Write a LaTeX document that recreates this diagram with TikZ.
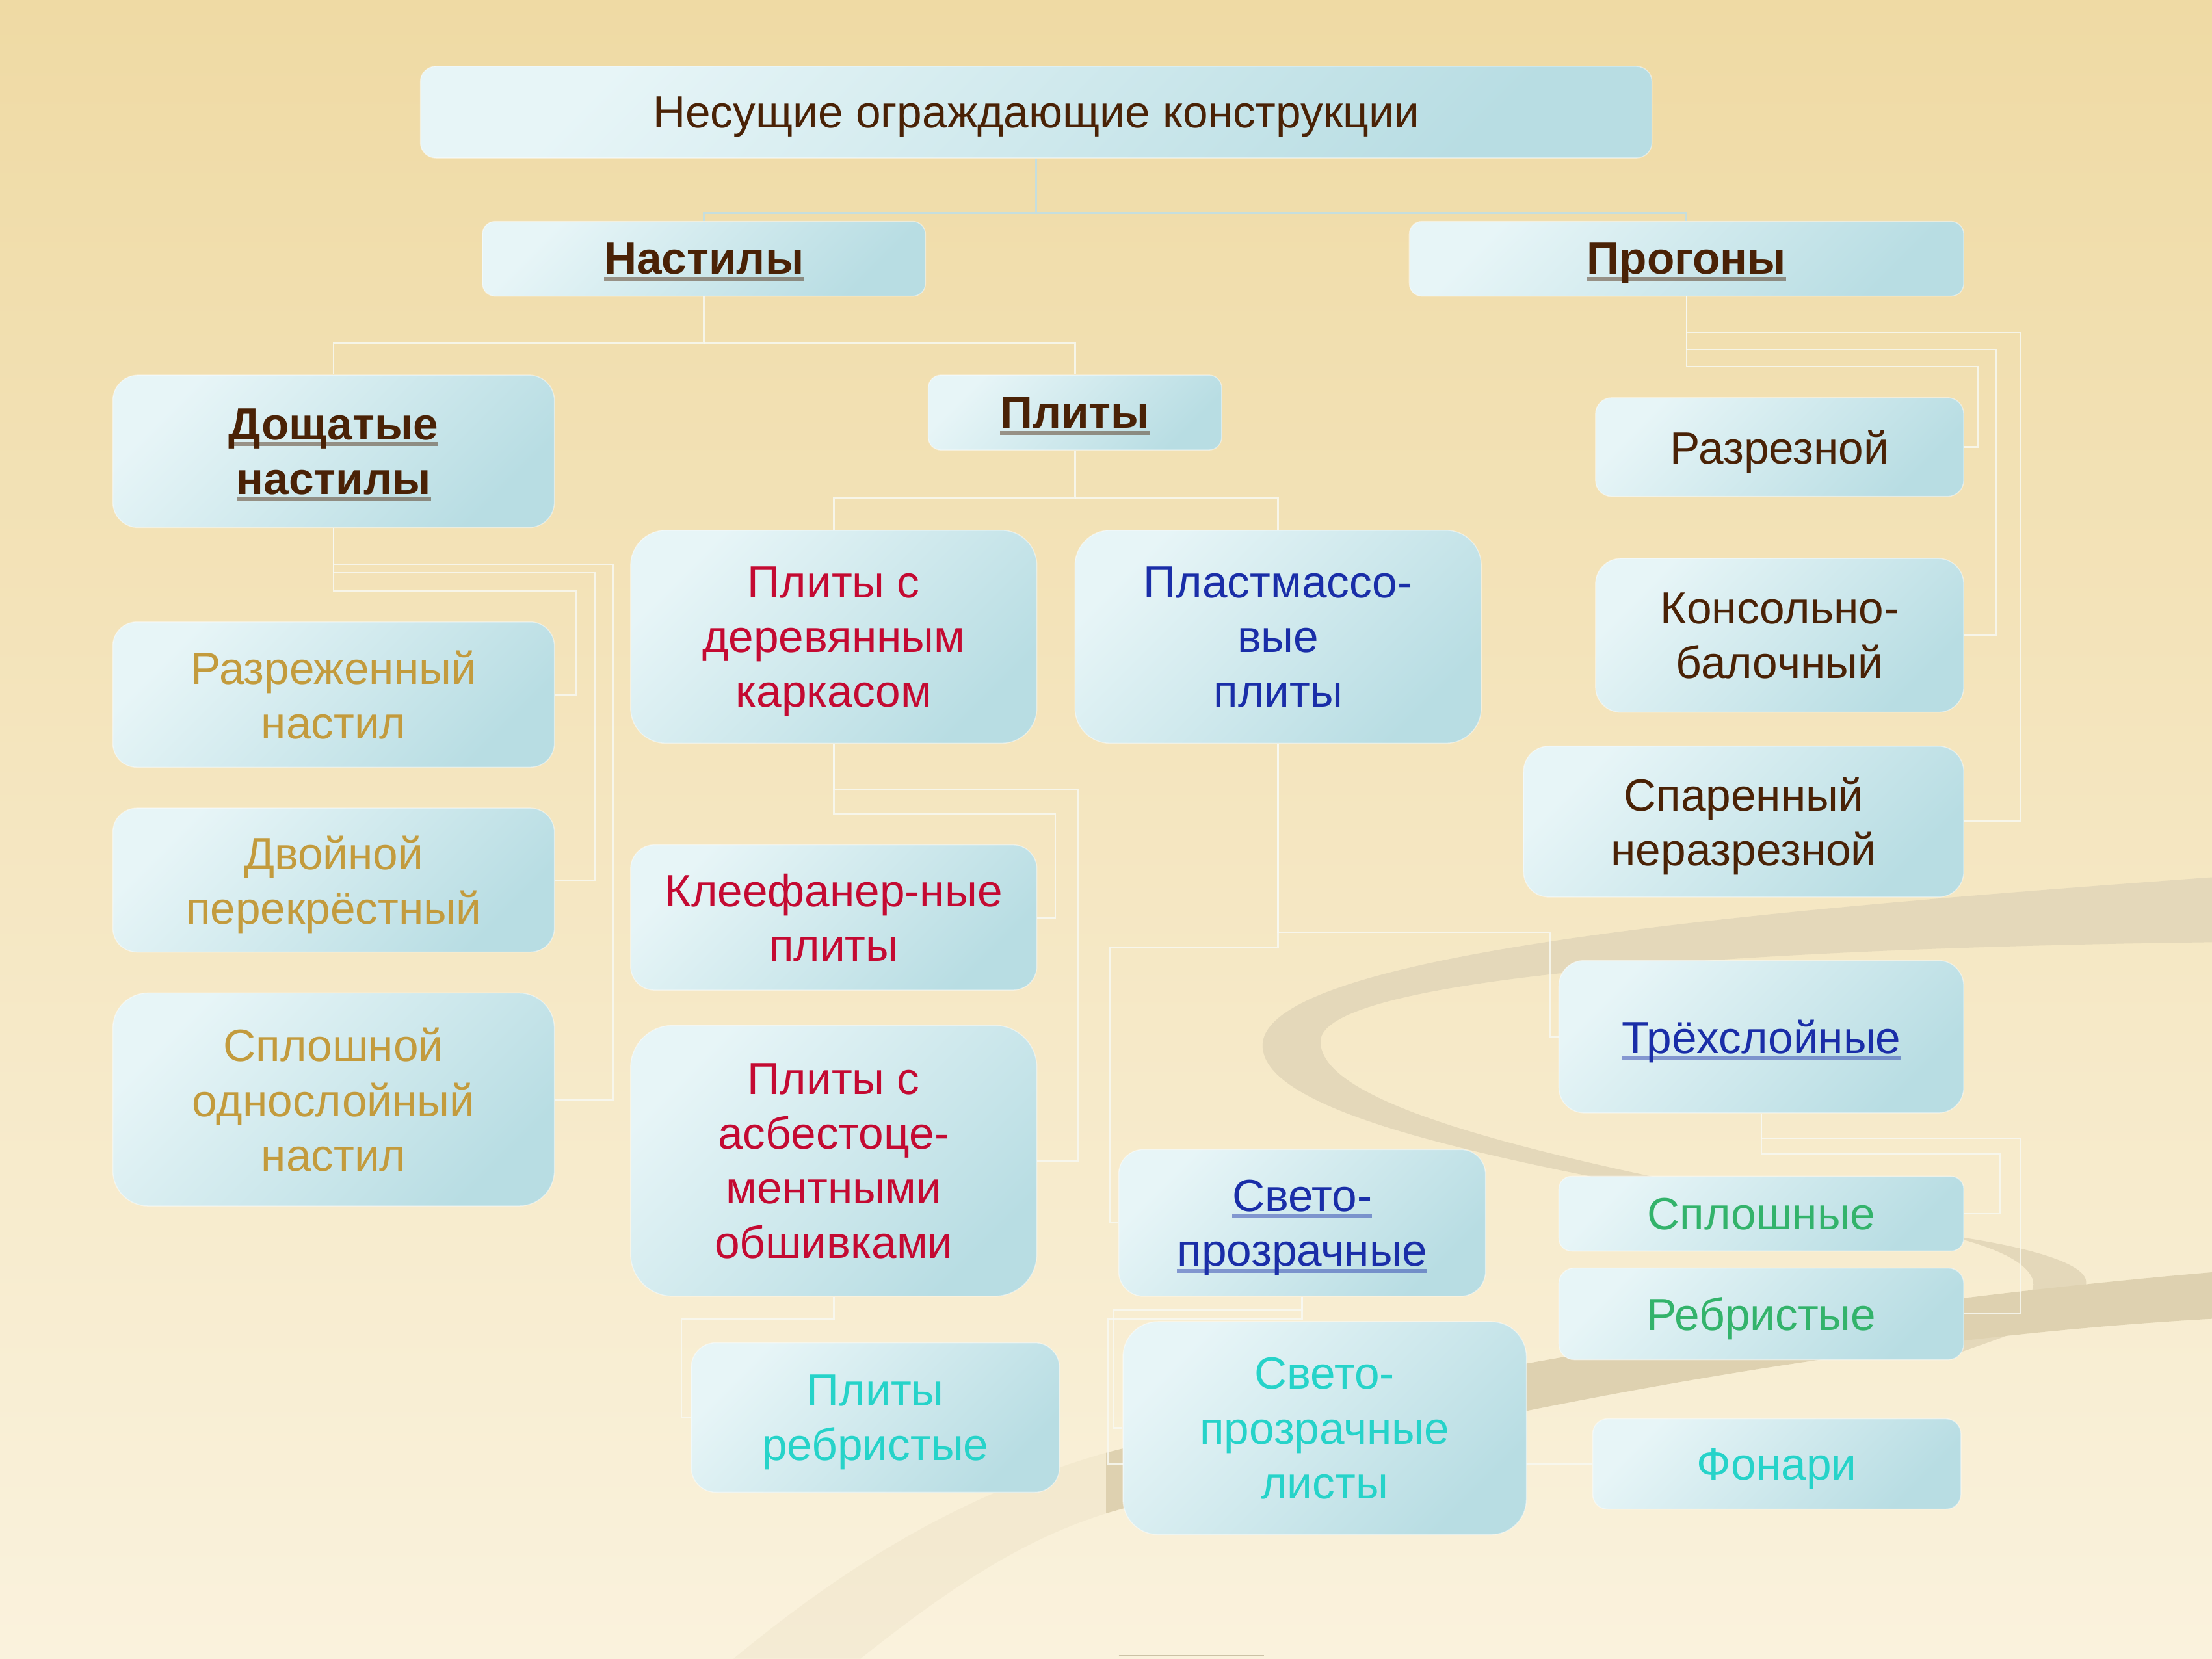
\documentclass[tikz,border=0pt]{standalone}
\usepackage{fontspec}
\setmainfont{Liberation Sans}
\usetikzlibrary{calc}
\definecolor{bgA}{HTML}{EFDAA4}
\definecolor{bgB}{HTML}{F8EBCB}
\definecolor{bgC}{HTML}{FAF2DD}
\definecolor{boxL}{HTML}{E7F5F7}
\definecolor{boxD}{HTML}{B8DDE3}
\definecolor{tBrown}{HTML}{4A2206}
\definecolor{tGold}{HTML}{C39B3D}
\definecolor{tRed}{HTML}{C40A32}
\definecolor{tBlue}{HTML}{1A2EA8}
\definecolor{tGreen}{HTML}{33B36B}
\definecolor{tCyan}{HTML}{26D3C9}
\definecolor{connC}{HTML}{F8F9F2}
\definecolor{connT}{HTML}{C6DEDD}
\definecolor{swA}{HTML}{E4D8BA}
\definecolor{swB}{HTML}{DED1B0}
\newcommand\ulx[1]{\setbox0=\hbox{#1}\rlap{\rule[-0.15em]{\wd0}{0.09em}}\box0}
\pgfdeclarelayer{background}
\pgfdeclarelayer{links}
\pgfsetlayers{background,links,main}
\tikzset{
  box/.style={rectangle, inner sep=0pt, align=center, text depth=0pt,
    font=\fontsize{18.2}{22.1}\selectfont,
    top color=boxL, bottom color=boxD, shading angle=45,
    draw=white, draw opacity=0.45, line width=0.4pt},
  hb/.style={text=tBrown, font=\fontsize{18.2}{22.1}\selectfont\bfseries},
  br/.style={text=tBrown},
  gd/.style={text=tGold},
  rd/.style={text=tRed},
  bl/.style={text=tBlue},
  gr/.style={text=tGreen},
  cy/.style={text=tCyan},
  conn/.style={draw=connC, draw opacity=0.85, line width=0.7pt},
  conntop/.style={draw=connT, line width=0.8pt},
  sw/.style={fill=swA, draw=none},
  swlow/.style={fill=swB, draw=none}
}
% name, x1, y1, x2, y2, style, text, radius
\newcommand\bx[8]{%
  \node[box,#6,minimum width={(#4-#2)*0.02cm},minimum height={(#5-#3)*0.02cm},
    rounded corners=#8] (#1) at ({(#2+#4)/2},{(#3+#5)/2}) {#7};}
\begin{document}
\begin{tikzpicture}[x=0.02cm,y=-0.02cm]
\useasboundingbox (0,0) rectangle (1568,1176);
\begin{pgfonlayer}{background}
  \shade[top color=bgA, middle color=bgB, bottom color=bgC] (0,0) rectangle (1568,1176);
  % S-shaped swoosh
  \fill[sw] (1568,622) .. controls (1250,645) and (900,675) .. (895,740)
     .. controls (892,795) and (1100,830) .. (1300,866)
     -- (1300,860) .. controls (1100,822) and (935,785) .. (936,738)
     .. controls (938,692) and (1250,672) .. (1568,668) -- cycle;
  \fill[sw] (1290,866) .. controls (1440,878) and (1492,898) .. (1476,915)
     .. controls (1462,935) and (1420,948) .. (1380,962)
     -- (1380,950) .. controls (1420,938) and (1448,920) .. (1440,905)
     .. controls (1430,886) and (1380,872) .. (1290,860) -- cycle;
  \fill[swlow] (1568,902) .. controls (1300,925) and (1000,975) .. (784,1030)
     -- (784,1073) .. controls (1000,1010) and (1300,950) .. (1568,935) -- cycle;
  \fill[swB, opacity=0.2] (784,1030) .. controls (680,1060) and (600,1110) .. (520,1176)
     -- (610,1176) .. controls (680,1120) and (730,1090) .. (784,1073) -- cycle;
  \coordinate (bl1) at (793,1174);
  \coordinate (bl2) at (896,1174);
  \draw[line width=0.6pt, draw=swB!80!gray] (bl1) -- (bl2);
\end{pgfonlayer}

% boxes
\bx{title}{298}{47}{1171}{112}{br}{Несущие ограждающие конструкции}{0.22cm}
\bx{nast}{342}{157}{656}{210}{hb}{\ulx{Настилы}}{0.18cm}
\bx{prog}{999}{157}{1392}{210}{hb}{\ulx{Прогоны}}{0.18cm}
\bx{dosch}{80}{266}{393}{374}{hb}{\ulx{Дощатые}\\\ulx{настилы}}{0.36cm}
\bx{plity}{658}{266}{866}{319}{hb}{\ulx{Плиты}}{0.18cm}
\bx{razrez}{1131}{282}{1392}{352}{br}{Разрезной}{0.23cm}
\bx{konsol}{1131}{396}{1392}{505}{br}{Консольно-\\балочный}{0.36cm}
\bx{sparen}{1080}{529}{1392}{636}{br}{Спаренный\\неразрезной}{0.36cm}
\bx{razrezh}{80}{441}{393}{544}{gd}{Разреженный\\настил}{0.34cm}
\bx{dvoin}{80}{573}{393}{675}{gd}{Двойной\\перекрёстный}{0.34cm}
\bx{splosh}{80}{704}{393}{855}{gd}{Сплошной\\однослойный\\настил}{0.5cm}
\bx{pder}{447}{376}{735}{527}{rd}{Плиты с\\деревянным\\каркасом}{0.5cm}
\bx{plast}{762}{376}{1050}{527}{bl}{Пластмассо-\\вые\\плиты}{0.5cm}
\bx{kleef}{447}{599}{735}{702}{rd}{Клеефанер-ные\\плиты}{0.34cm}
\bx{asbest}{447}{727}{735}{919}{rd}{Плиты с\\асбестоце-\\ментными\\обшивками}{0.6cm}
\bx{trex}{1105}{681}{1392}{789}{bl}{\ulx{Трёхслойные}}{0.36cm}
\bx{svp}{793}{815}{1053}{919}{bl}{\ulx{Свето-}\\\ulx{прозрачные}}{0.35cm}
\bx{sploshn}{1105}{834}{1392}{887}{gr}{Сплошные}{0.18cm}
\bx{rebr}{1105}{899}{1392}{964}{gr}{Ребристые}{0.22cm}
\bx{prebr}{490}{952}{751}{1058}{cy}{Плиты\\ребристые}{0.35cm}
\bx{listy}{796}{937}{1082}{1088}{cy}{Свето-\\прозрачные\\листы}{0.5cm}
\bx{fonari}{1129}{1006}{1390}{1070}{cy}{Фонари}{0.21cm}

% junction points
\coordinate (j1) at (734.5,151);
\coordinate (j2) at (499,243);
\coordinate (j3) at (762,353);
\coordinate (p1) at (1402,260);
\coordinate (p2) at (1415,248);
\coordinate (p3) at (1432,236);
\coordinate (d1) at (408,419);
\coordinate (d2) at (422,406);
\coordinate (d3) at (435,400);
\coordinate (k1) at (748,577);
\coordinate (k2) at (764,560);
\coordinate (a1) at (483,935);
\coordinate (m1) at (1099,661);
\coordinate (m2) at (787,672);
\coordinate (t1) at (1418,818);
\coordinate (t2) at (1432,807);
\coordinate (s1) at (789,929);
\coordinate (s2) at (785,935);

\begin{pgfonlayer}{links}
  \draw[conntop] (title.south) -- (j1);
  \draw[conntop] (j1) -| (nast.north);
  \draw[conntop] (j1) -| (prog.north);
  \draw[conn] (nast.south) -- (j2) -| (dosch.north);
  \draw[conn] (j2) -| (plity.north);
  \draw[conn] (plity.south) -- (j3) -| (pder.north);
  \draw[conn] (j3) -| (plast.north);
  \draw[conn] (prog.south) |- (p1) |- (razrez.east);
  \draw[conn] (prog.south) |- (p2) |- (konsol.east);
  \draw[conn] (prog.south) |- (p3) |- (sparen.east);
  \draw[conn] (dosch.south) |- (d1) |- (razrezh.east);
  \draw[conn] (dosch.south) |- (d2) |- (dvoin.east);
  \draw[conn] (dosch.south) |- (d3) |- (splosh.east);
  \draw[conn] (pder.south) |- (k1) |- (kleef.east);
  \draw[conn] (pder.south) |- (k2) |- (asbest.east);
  \draw[conn] (asbest.south) |- (a1) |- (prebr.west);
  \draw[conn] (plast.south) |- (m1) |- (trex.west);
  \draw[conn] (plast.south) |- (m2) |- (svp.west);
  \draw[conn] (trex.south) |- (t1) |- (sploshn.east);
  \draw[conn] (trex.south) |- (t2) |- (rebr.east);
  \draw[conn] (svp.south) |- (s1) |- (listy.west);
  \draw[conn] (svp.south) |- (s2) |- (fonari.west);
\end{pgfonlayer}
\end{tikzpicture}
\end{document}
